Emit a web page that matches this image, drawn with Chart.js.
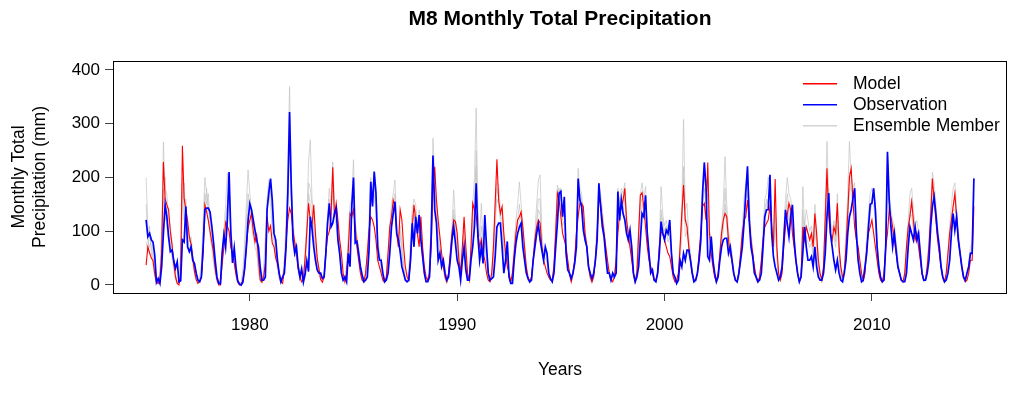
<!DOCTYPE html>
<html>
<head>
<meta charset="utf-8">
<script src="https://cdn.jsdelivr.net/npm/chart.js@4.4.1/dist/chart.umd.min.js"></script>
<style>
html,body{margin:0;padding:0;background:#fff;}
#wrap{width:1009px;height:394px;}
</style>
</head>
<body>
<div id="wrap"><canvas id="c" width="1009" height="394"></canvas></div>
<script>
// ---------- DATA (monthly totals, mm; Jan..Dec per row) ----------
const startYear = 1975;
const endYear = 2014;
const xTicks = [1980, 1990, 2000, 2010];
const yTicks = [0, 100, 200, 300, 400];

const observation = [
  121, 90, 96, 84, 80, 55, 5, 12, 3, 34, 96, 149,
  127, 90, 62, 65, 45, 31, 43, 6, 8, 84, 80, 146,
  71, 62, 71, 46, 40, 22, 9, 6, 15, 71, 140, 143,
  143, 136, 110, 80, 45, 15, 3, 2, 60, 93, 70, 120,
  210, 99, 41, 69, 32, 8, 2, 0, 5, 30, 70, 120,
  151, 140, 121, 102, 84, 71, 34, 9, 9, 15, 140, 171,
  198, 158, 96, 84, 46, 22, 6, 15, 22, 71, 171, 322,
  183, 84, 59, 71, 34, 15, 30, 5, 20, 45, 25, 127,
  105, 71, 46, 28, 22, 22, 12, 15, 59, 115, 152, 108,
  115, 133, 143, 84, 59, 22, 9, 15, 6, 59, 34, 146,
  200, 78, 81, 59, 34, 19, 6, 9, 15, 65, 192, 146,
  211, 171, 71, 46, 46, 22, 6, 9, 22, 59, 108, 133,
  155, 96, 84, 62, 34, 22, 9, 6, 9, 46, 115, 71,
  127, 96, 130, 84, 53, 22, 6, 6, 15, 96, 241, 140,
  115, 46, 59, 34, 46, 22, 9, 15, 46, 84, 108, 78,
  46, 34, 9, 46, 71, 28, 9, 9, 46, 71, 108, 189,
  90, 46, 71, 40, 130, 71, 22, 9, 12, 15, 53, 108,
  115, 115, 71, 22, 46, 81, 15, 3, 3, 46, 78, 96,
  108, 115, 71, 46, 22, 12, 6, 9, 46, 71, 96, 112,
  84, 65, 46, 71, 59, 22, 12, 6, 22, 71, 115, 171,
  174, 127, 164, 59, 28, 22, 12, 22, 40, 71, 198, 158,
  146, 102, 84, 71, 34, 22, 12, 22, 46, 84, 189, 146,
  108, 90, 53, 22, 22, 9, 22, 15, 22, 174, 120, 158,
  133, 121, 96, 84, 102, 71, 22, 6, 15, 34, 84, 133,
  127, 167, 96, 59, 22, 28, 9, 6, 22, 59, 118, 96,
  84, 102, 96, 121, 59, 22, 15, 3, 9, 46, 34, 59,
  46, 65, 65, 46, 22, 6, 9, 22, 46, 84, 171, 228,
  183, 53, 46, 90, 46, 22, 6, 15, 46, 71, 84, 87,
  87, 59, 71, 46, 22, 9, 6, 22, 46, 71, 115, 171,
  221, 121, 71, 53, 22, 15, 6, 9, 22, 71, 127, 140,
  140, 205, 96, 53, 34, 22, 9, 15, 34, 84, 140, 115,
  90, 127, 149, 84, 46, 22, 6, 15, 59, 108, 71, 46,
  46, 53, 34, 71, 34, 15, 9, 9, 22, 59, 127, 171,
  96, 71, 46, 28, 46, 22, 9, 6, 22, 46, 96, 127,
  140, 160, 180, 96, 46, 22, 6, 9, 34, 59, 108, 150,
  152, 180, 140, 71, 34, 15, 6, 9, 71, 248, 158, 108,
  71, 96, 65, 34, 22, 9, 6, 6, 22, 71, 108, 96,
  84, 108, 84, 96, 59, 22, 9, 9, 22, 46, 108, 146,
  164, 133, 96, 71, 34, 15, 6, 9, 22, 46, 96, 133,
  102, 127, 84, 59, 34, 15, 9, 22, 34, 59, 59, 198
];

const model = [
  37, 71, 60, 50, 45, 20, 5, 3, 10, 61, 229, 160,
  149, 140, 100, 75, 40, 15, 3, 0, 20, 259, 161, 140,
  120, 90, 75, 50, 25, 10, 3, 6, 15, 60, 149, 136,
  120, 100, 80, 60, 30, 10, 0, 0, 40, 70, 117, 110,
  100, 70, 60, 40, 20, 5, 0, 0, 10, 30, 70, 106,
  120, 133, 100, 80, 93, 50, 10, 5, 15, 40, 127, 100,
  110, 78, 71, 50, 40, 20, 6, 3, 30, 80, 121, 143,
  133, 100, 80, 60, 30, 15, 6, 10, 50, 100, 152, 120,
  110, 149, 96, 50, 30, 10, 5, 15, 60, 90, 100, 127,
  219, 127, 152, 121, 84, 59, 22, 6, 22, 65, 133, 127,
  140, 108, 71, 46, 22, 9, 6, 22, 59, 102, 127, 121,
  108, 84, 46, 34, 22, 9, 6, 15, 59, 108, 127, 158,
  146, 96, 71, 140, 121, 71, 34, 15, 9, 46, 108, 149,
  121, 96, 71, 127, 71, 34, 15, 9, 22, 71, 183, 220,
  158, 121, 90, 59, 34, 15, 6, 22, 59, 96, 121, 118,
  96, 46, 22, 71, 127, 71, 22, 9, 71, 152, 140, 130,
  96, 71, 84, 59, 46, 22, 9, 6, 22, 71, 152, 234,
  158, 133, 146, 96, 59, 34, 22, 6, 22, 59, 96, 121,
  127, 136, 108, 71, 34, 15, 6, 15, 46, 84, 108, 121,
  115, 71, 46, 34, 22, 15, 9, 9, 34, 96, 171, 158,
  127, 96, 84, 71, 46, 22, 6, 22, 46, 96, 127, 152,
  152, 146, 96, 71, 34, 15, 6, 15, 46, 96, 161, 152,
  121, 96, 71, 46, 22, 9, 6, 15, 46, 96, 133, 146,
  158, 180, 121, 96, 71, 46, 22, 6, 22, 96, 167, 172,
  146, 108, 71, 46, 34, 22, 9, 9, 22, 71, 99, 96,
  84, 71, 59, 53, 34, 15, 6, 9, 22, 71, 133, 186,
  121, 108, 71, 46, 22, 9, 9, 22, 59, 96, 146, 152,
  121, 228, 96, 59, 34, 15, 6, 22, 59, 96, 121, 133,
  127, 84, 59, 46, 22, 9, 6, 22, 59, 96, 121, 127,
  158, 121, 84, 59, 34, 15, 6, 15, 46, 84, 108, 115,
  121, 146, 108, 71, 197, 71, 22, 9, 22, 71, 108, 130,
  152, 140, 96, 71, 46, 22, 6, 15, 108, 84, 108, 96,
  84, 96, 71, 133, 96, 46, 22, 9, 34, 127, 217, 127,
  96, 84, 108, 96, 152, 71, 34, 15, 22, 71, 133, 200,
  217, 158, 108, 84, 71, 46, 22, 9, 22, 71, 96, 108,
  121, 96, 71, 46, 22, 9, 6, 22, 71, 96, 140, 127,
  108, 84, 59, 34, 22, 9, 6, 22, 71, 108, 127, 155,
  121, 84, 96, 71, 46, 22, 9, 9, 34, 71, 127, 198,
  158, 121, 84, 59, 34, 15, 6, 22, 59, 96, 121, 146,
  170, 127, 84, 59, 34, 15, 6, 9, 22, 46, 46, 146
];

const ensembleA = [
  200, 110, 90, 70, 50, 25, 8, 5, 25, 90, 266, 180,
  170, 120, 110, 80, 40, 20, 5, 10, 60, 200, 150, 130,
  110, 90, 80, 50, 30, 10, 5, 15, 40, 120, 200, 170,
  150, 120, 90, 60, 30, 10, 3, 10, 50, 100, 150, 208,
  160, 110, 70, 50, 25, 10, 3, 5, 30, 80, 150, 214,
  170, 140, 120, 90, 70, 30, 8, 10, 30, 90, 160, 195,
  180, 120, 90, 60, 40, 15, 5, 15, 50, 120, 220, 369,
  200, 110, 70, 60, 30, 15, 10, 15, 60, 120, 229, 270,
  160, 120, 80, 50, 30, 15, 10, 20, 70, 130, 180, 150,
  229, 150, 140, 100, 70, 30, 10, 10, 40, 90, 150, 160,
  233, 120, 90, 60, 30, 10, 5, 20, 60, 120, 200, 170,
  208, 180, 90, 60, 40, 15, 5, 15, 60, 110, 150, 170,
  195, 120, 90, 110, 80, 40, 10, 10, 30, 80, 140, 160,
  150, 110, 140, 100, 60, 25, 8, 10, 40, 120, 273, 200,
  160, 110, 80, 50, 40, 15, 5, 20, 60, 110, 177, 120,
  100, 60, 30, 70, 110, 60, 15, 10, 70, 150, 200, 329,
  140, 90, 152, 80, 110, 50, 15, 8, 20, 80, 160, 190,
  186, 140, 130, 80, 60, 70, 20, 5, 30, 80, 120, 150,
  192, 150, 110, 70, 30, 10, 5, 15, 60, 100, 150, 195,
  205, 100, 60, 70, 50, 20, 10, 10, 40, 120, 186, 170,
  180, 130, 150, 80, 40, 20, 8, 20, 50, 100, 217, 180,
  170, 130, 100, 80, 40, 15, 5, 20, 60, 120, 190, 170,
  140, 110, 70, 40, 25, 10, 15, 20, 60, 180, 150, 180,
  170, 190, 130, 100, 90, 60, 20, 8, 30, 110, 170, 190,
  160, 183, 110, 60, 35, 25, 10, 8, 30, 80, 183, 130,
  110, 120, 100, 120, 60, 20, 10, 5, 20, 80, 150, 308,
  140, 152, 90, 60, 30, 10, 8, 20, 60, 110, 183, 220,
  190, 200, 100, 90, 50, 20, 8, 20, 60, 110, 150, 239,
  150, 100, 80, 60, 30, 10, 5, 20, 60, 110, 160, 190,
  208, 160, 100, 70, 30, 15, 5, 15, 40, 100, 160, 170,
  201, 190, 120, 80, 150, 60, 15, 15, 40, 100, 160, 200,
  170, 160, 140, 90, 50, 20, 8, 20, 183, 110, 140, 120,
  100, 110, 80, 150, 100, 40, 15, 10, 40, 140, 267, 160,
  120, 100, 120, 100, 170, 70, 25, 10, 30, 100, 170, 267,
  200, 180, 190, 110, 70, 40, 15, 10, 40, 90, 130, 170,
  180, 170, 150, 80, 40, 15, 5, 15, 90, 245, 170, 140,
  120, 110, 80, 50, 25, 10, 5, 20, 70, 120, 170, 180,
  140, 110, 120, 100, 60, 25, 8, 10, 40, 90, 150, 210,
  190, 150, 110, 70, 40, 15, 5, 20, 60, 110, 150, 180,
  190, 140, 100, 70, 40, 15, 8, 20, 40, 70, 80, 200
];

const ensembleB = [
  80, 60, 110, 60, 40, 15, 3, 2, 15, 60, 150, 200,
  110, 80, 90, 50, 30, 10, 3, 5, 40, 150, 190, 100,
  90, 70, 60, 40, 20, 8, 3, 10, 30, 90, 120, 180,
  120, 90, 70, 40, 20, 5, 2, 8, 30, 80, 130, 150,
  180, 80, 60, 40, 15, 5, 2, 3, 20, 60, 120, 170,
  140, 110, 90, 70, 60, 25, 5, 8, 20, 70, 150, 170,
  150, 100, 80, 50, 30, 10, 3, 10, 40, 100, 150, 250,
  160, 90, 60, 50, 25, 10, 8, 10, 50, 100, 170, 150,
  130, 100, 60, 40, 20, 10, 8, 15, 50, 110, 140, 120,
  180, 130, 110, 80, 50, 20, 8, 8, 30, 70, 120, 140,
  170, 100, 70, 50, 25, 8, 3, 15, 50, 100, 160, 150,
  170, 130, 70, 50, 30, 10, 3, 10, 50, 90, 130, 150,
  150, 100, 70, 90, 60, 30, 8, 8, 20, 60, 120, 130,
  130, 90, 110, 80, 50, 20, 5, 8, 30, 100, 200, 180,
  130, 90, 60, 40, 30, 10, 3, 15, 50, 90, 140, 100,
  80, 40, 20, 60, 90, 50, 10, 8, 60, 120, 160, 220,
  110, 70, 110, 60, 80, 40, 10, 5, 15, 60, 130, 160,
  150, 120, 110, 70, 50, 60, 15, 3, 20, 60, 100, 120,
  150, 120, 90, 60, 25, 8, 3, 10, 50, 80, 120, 160,
  160, 80, 50, 50, 40, 15, 8, 8, 30, 100, 150, 150,
  150, 110, 120, 70, 30, 15, 5, 15, 40, 80, 170, 160,
  150, 110, 80, 70, 30, 10, 3, 15, 50, 100, 160, 150,
  120, 90, 60, 30, 20, 8, 10, 15, 50, 140, 130, 150,
  140, 160, 110, 80, 70, 50, 15, 5, 20, 90, 150, 160,
  130, 140, 90, 50, 30, 20, 8, 5, 20, 60, 140, 110,
  90, 100, 80, 90, 50, 15, 8, 3, 15, 60, 120, 220,
  120, 120, 70, 50, 25, 8, 5, 15, 50, 90, 150, 180,
  150, 170, 80, 70, 40, 15, 5, 15, 50, 90, 120, 180,
  120, 80, 60, 50, 25, 8, 3, 15, 50, 90, 130, 160,
  170, 130, 80, 60, 25, 10, 3, 10, 30, 80, 130, 150,
  160, 170, 100, 60, 110, 50, 10, 10, 30, 80, 130, 170,
  140, 140, 110, 70, 40, 15, 5, 15, 140, 90, 110, 100,
  80, 90, 60, 120, 80, 30, 10, 8, 30, 110, 190, 150,
  100, 80, 100, 80, 130, 60, 20, 8, 25, 80, 140, 210,
  170, 150, 160, 90, 60, 30, 10, 8, 30, 70, 110, 140,
  150, 150, 120, 60, 30, 10, 3, 10, 70, 190, 150, 120,
  100, 90, 70, 40, 20, 8, 3, 15, 60, 100, 140, 160,
  110, 90, 100, 80, 50, 20, 5, 8, 30, 70, 130, 170,
  160, 130, 90, 60, 30, 10, 3, 15, 50, 90, 130, 150,
  160, 120, 80, 60, 30, 10, 5, 15, 30, 60, 70, 170
];

const ensembleC = [
  150, 80, 70, 90, 60, 30, 10, 3, 20, 100, 180, 120,
  140, 100, 70, 70, 50, 20, 5, 3, 30, 180, 120, 160,
  100, 80, 90, 60, 30, 15, 5, 8, 20, 70, 170, 150,
  170, 110, 100, 50, 30, 10, 3, 5, 60, 90, 100, 140,
  190, 90, 50, 60, 30, 8, 3, 2, 10, 50, 90, 150,
  160, 120, 110, 90, 80, 40, 10, 5, 15, 60, 130, 190,
  170, 140, 100, 70, 50, 20, 5, 10, 30, 90, 190, 290,
  170, 120, 80, 70, 40, 20, 15, 8, 40, 80, 190, 180,
  150, 90, 70, 50, 30, 20, 10, 10, 60, 120, 160, 130,
  190, 140, 130, 100, 70, 30, 10, 10, 20, 80, 90, 150,
  200, 110, 90, 70, 40, 15, 5, 10, 40, 90, 180, 160,
  190, 150, 80, 50, 50, 20, 5, 10, 40, 80, 120, 140,
  170, 110, 90, 100, 70, 30, 10, 8, 15, 60, 130, 120,
  140, 100, 120, 90, 60, 25, 8, 8, 20, 110, 230, 170,
  140, 80, 70, 50, 40, 20, 8, 15, 50, 100, 130, 100,
  70, 50, 20, 60, 100, 40, 10, 10, 50, 100, 140, 250,
  100, 60, 90, 50, 120, 60, 20, 8, 15, 40, 100, 180,
  160, 130, 120, 60, 50, 70, 15, 5, 10, 50, 90, 110,
  120, 130, 100, 60, 30, 10, 5, 10, 50, 90, 110, 140,
  130, 70, 60, 60, 50, 20, 10, 8, 30, 90, 160, 180,
  170, 120, 140, 70, 35, 20, 10, 20, 50, 90, 190, 170,
  160, 120, 90, 80, 40, 20, 8, 20, 50, 90, 180, 160,
  130, 100, 60, 35, 25, 10, 20, 15, 40, 160, 140, 170,
  150, 170, 110, 90, 80, 60, 20, 8, 20, 60, 120, 150,
  140, 160, 100, 60, 30, 25, 10, 8, 25, 70, 130, 120,
  100, 110, 90, 100, 60, 20, 10, 5, 15, 50, 90, 200,
  90, 100, 80, 50, 25, 10, 8, 20, 50, 90, 160, 200,
  170, 150, 70, 80, 45, 20, 8, 20, 50, 80, 100, 150,
  110, 70, 70, 50, 25, 10, 5, 20, 50, 80, 120, 180,
  190, 140, 90, 60, 30, 15, 5, 10, 30, 80, 140, 160,
  150, 190, 110, 60, 130, 50, 15, 15, 30, 90, 140, 150,
  120, 150, 130, 80, 50, 20, 8, 20, 100, 120, 90, 80,
  70, 80, 50, 100, 70, 30, 10, 10, 30, 90, 170, 180,
  110, 90, 90, 70, 110, 50, 20, 8, 25, 60, 120, 180,
  180, 170, 180, 100, 60, 30, 10, 8, 35, 70, 100, 130,
  160, 180, 130, 70, 35, 15, 5, 10, 80, 210, 160, 120,
  90, 100, 70, 40, 25, 10, 5, 15, 50, 90, 130, 130,
  100, 100, 90, 90, 55, 20, 8, 10, 30, 60, 120, 180,
  170, 140, 100, 70, 35, 15, 5, 15, 40, 70, 110, 140,
  140, 130, 90, 60, 35, 15, 8, 20, 35, 60, 60, 185
];

// ---------- build point tables ----------
function toPoints(arr) {
  return arr.map((v, i) => ({ x: startYear + i / 12, y: v }));
}

const titleText = 'M8 Monthly Total Precipitation';
const xTitle = 'Years';
const yTitleLines = ['Monthly Total', 'Precipitation (mm)'];
const legendItems = [
  { label: 'Model', color: '#ff0000' },
  { label: 'Observation', color: '#0000ff' },
  { label: 'Ensemble Member', color: '#d3d3d3' }
];

const FONT = '"Liberation Sans", Arial, Helvetica, sans-serif';
const GRAY = 'rgba(195,195,195,0.7)';

const decorPlugin = {
  id: 'decor',
  afterDraw(chart) {
    const ctx = chart.ctx;
    const a = chart.chartArea;
    ctx.save();
    // box
    ctx.strokeStyle = '#000';
    ctx.lineWidth = 1;
    ctx.strokeRect(Math.round(a.left) + 0.5, Math.round(a.top) + 0.5,
                   Math.round(a.right - a.left) - 1, Math.round(a.bottom - a.top));
    // title
    ctx.fillStyle = '#000';
    ctx.textAlign = 'center';
    ctx.textBaseline = 'middle';
    ctx.font = 'bold 21px ' + FONT;
    ctx.fillText(titleText, (a.left + a.right) / 2, 19);
    // x title
    ctx.font = '17.5px ' + FONT;
    ctx.fillText(xTitle, (a.left + a.right) / 2, 370);
    // y title (rotated, 2 lines)
    ctx.save();
    ctx.translate(0, (a.top + a.bottom) / 2);
    ctx.rotate(-Math.PI / 2);
    ctx.fillText(yTitleLines[0], 0, 19);
    ctx.fillText(yTitleLines[1], 0, 40);
    ctx.restore();
    // legend
    ctx.font = '17.5px ' + FONT;
    ctx.textAlign = 'left';
    legendItems.forEach((it, k) => {
      const y = 83 + k * 21;
      ctx.fillStyle = it.color;
      ctx.fillRect(803, y, 34, 1.5);
      ctx.fillStyle = '#000';
      ctx.fillText(it.label, 853, y + 1);
    });
    ctx.restore();
  }
};

const chart = new Chart(document.getElementById('c'), {
  type: 'line',
  data: {
    datasets: [
      { label: 'Observation', data: toPoints(observation), borderColor: '#0000ff', borderWidth: 1.7 },
      { label: 'Model', data: toPoints(model), borderColor: '#ff0000', borderWidth: 1.1 },
      { label: 'Ensemble Member', data: toPoints(ensembleA), borderColor: GRAY, borderWidth: 1 },
      { label: 'Ensemble Member', data: toPoints(ensembleB), borderColor: GRAY, borderWidth: 1 },
      { label: 'Ensemble Member', data: toPoints(ensembleC), borderColor: GRAY, borderWidth: 1 }
    ]
  },
  options: {
    responsive: false,
    animation: false,
    devicePixelRatio: 1,
    elements: { point: { radius: 0 }, line: { tension: 0, fill: false } },
    layout: { padding: { top: 61, right: 2, left: 0, bottom: 0 } },
    plugins: { legend: { display: false }, tooltip: { enabled: false }, title: { display: false } },
    scales: {
      x: {
        type: 'linear',
        min: 1973.403,
        max: 2016.514,
        afterBuildTicks: s => { s.ticks = xTicks.map(v => ({ value: v })); },
        afterFit: s => { s.height = 101; },
        grid: { drawOnChartArea: false, drawTicks: true, tickLength: 8, color: '#444' },
        border: { display: false },
        ticks: { color: '#000', font: { family: FONT, size: 17 }, padding: 14, maxRotation: 0, autoSkip: false,
                 callback: v => String(v) }
      },
      y: {
        type: 'linear',
        min: -14.9,
        max: 416.7,
        afterBuildTicks: s => { s.ticks = yTicks.map(v => ({ value: v })); },
        afterFit: s => { s.width = 113; },
        grid: { drawOnChartArea: false, drawTicks: true, tickLength: 8, color: '#444' },
        border: { display: false },
        ticks: { color: '#000', font: { family: FONT, size: 17 }, padding: 5, autoSkip: false,
                 callback: v => String(v) }
      }
    }
  },
  plugins: [decorPlugin]
});
</script>
</body>
</html>
